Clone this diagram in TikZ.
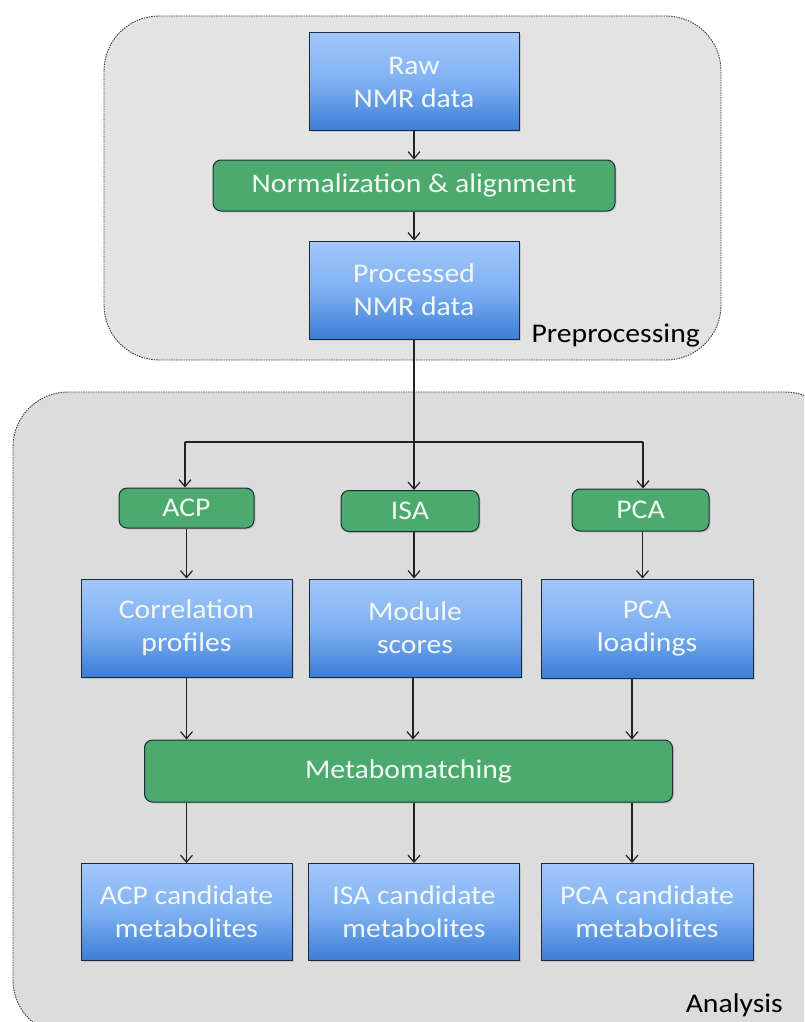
\documentclass[tikz,border=0pt]{standalone}
\usepackage{fontspec}
\setmainfont{Carlito}[FakeStretch=1.1]
\usetikzlibrary{arrows.meta,shadows,calc}
\definecolor{bgA}{HTML}{E3E3E3}
\definecolor{bgB}{HTML}{DCDCDC}
\definecolor{blueTop}{HTML}{A2C7FB}
\definecolor{blueMid}{HTML}{7FB0F2}
\definecolor{blueBot}{HTML}{3C7DD6}
\definecolor{greenFill}{HTML}{4CAA6F}
\definecolor{boxEdge}{HTML}{1E2A3A}
\definecolor{txtW}{HTML}{F2F8F2}
\definecolor{lineC}{HTML}{222222}
\tikzset{
  region/.style={draw=black!75, dashed, dash pattern=on 1.5pt off 1pt, line width=0.9pt, rounded corners=55pt},
  bluebox/.style={draw=boxEdge, line width=1pt, top color=blueTop, bottom color=blueBot, middle color=blueMid,
    text=txtW, font=\fontsize{27}{33}\selectfont, align=center, inner sep=0pt,
    drop shadow={shadow xshift=1.5pt, shadow yshift=-1.5pt, opacity=0.25}},
  greenbox/.style={draw=boxEdge, line width=1pt, fill=greenFill, rounded corners=8pt,
    text=txtW, font=\fontsize{27}{33}\selectfont, align=center, inner sep=0pt,
    drop shadow={shadow xshift=1.5pt, shadow yshift=-1.5pt, opacity=0.25}},
  arr/.style={draw=lineC, line width=1.3pt, -{Straight Barb[length=7pt,width=12pt,line width=1.2pt]}},
  ln/.style={draw=lineC, line width=1.3pt},
  regionlabel/.style={font=\fontsize{27}{30}\selectfont, text=black, inner sep=0pt}
}
\begin{document}
\begin{tikzpicture}[x=1pt,y=-1pt]
\useasboundingbox (0,0) rectangle (804,1022);
\clip (0,0) rectangle (804,1022);
\fill[white] (0,0) rectangle (804,1022);
% regions
\draw[region, fill=bgA] (104,16) rectangle (721,360);
\draw[region, fill=bgB] (13,392) rectangle (840,1035);
\node[regionlabel, anchor=base east] (lblpre) at (700,342) {Preprocessing};
\node[regionlabel, anchor=base east] (lblana) at (783,1012) {Analysis};
% preprocessing nodes
\node[bluebox, minimum width=210pt, minimum height=98pt] (raw) at (414,82) {Raw\\NMR data};
\node[greenbox, minimum width=402pt, minimum height=51pt] (norm) at (414,185.5) {Normalization \& alignment};
\node[bluebox, minimum width=210pt, minimum height=98pt] (proc) at (414,290) {Processed\\NMR data};
% analysis methods
\node[greenbox, minimum width=135pt, minimum height=40pt] (acp) at (186.5,508) {ACP};
\node[greenbox, minimum width=138pt, minimum height=41pt] (isa) at (410,511) {ISA};
\node[greenbox, minimum width=137pt, minimum height=42pt] (pca) at (640.5,510) {PCA};
% outputs
\node[bluebox, minimum width=211pt, minimum height=98pt] (corr) at (186.5,628) {Correlation\\profiles};
\node[bluebox, minimum width=212pt, minimum height=98pt] (mod) at (415,628) {Module\\scores};
\node[bluebox, minimum width=212pt, minimum height=99pt] (load) at (647,628.5) {PCA\\loadings};
% metabomatching
\node[greenbox, minimum width=528pt, minimum height=62pt] (meta) at (408.5,771) {Metabomatching};
% candidates
\node[bluebox, minimum width=211pt, minimum height=97pt] (acpc) at (186.5,912) {ACP candidate\\metabolites};
\node[bluebox, minimum width=211pt, minimum height=97pt] (isac) at (414,912) {ISA candidate\\metabolites};
\node[bluebox, minimum width=212pt, minimum height=97pt] (pcac) at (647,912) {PCA candidate\\metabolites};
% connectors
\coordinate (split) at ($(proc.south)+(0,103)$);
\coordinate (hl) at (185,442);
\coordinate (hr) at (643,442);
\draw[arr] (raw) -- (norm);
\draw[arr] (norm) -- (proc);
\draw[ln] (proc.south) -- (split);
\draw[ln] (hl) -- (hr);
\draw[arr] (split) -- (split |- isa.north);
\draw[arr] (hl) -- (hl |- acp.north);
\draw[arr] (hr) -- (hr |- pca.north);
\draw[arr] (acp.south) -- (acp.south |- corr.north);
\draw[arr] ([xshift=2pt]pca.south) -- ([xshift=2pt]pca.south |- load.north);
\draw[arr] (isa.south -| split) -- (split |- mod.north);
\draw[arr] (corr.south) -- (corr.south |- meta.north);
\draw[arr] ([xshift=-2pt]mod.south) -- ([xshift=-2pt]mod.south |- meta.north);
\draw[arr] ([xshift=-15pt]load.south) -- ([xshift=-15pt]load.south |- meta.north);
\draw[arr] (meta.south -| corr.south) -- (acpc.north);
\draw[arr] (meta.south -| isac.north) -- (isac.north);
\draw[arr] ([xshift=-15pt]meta.south -| pcac.north) -- ([xshift=-15pt]pcac.north);
\end{tikzpicture}
\end{document}
